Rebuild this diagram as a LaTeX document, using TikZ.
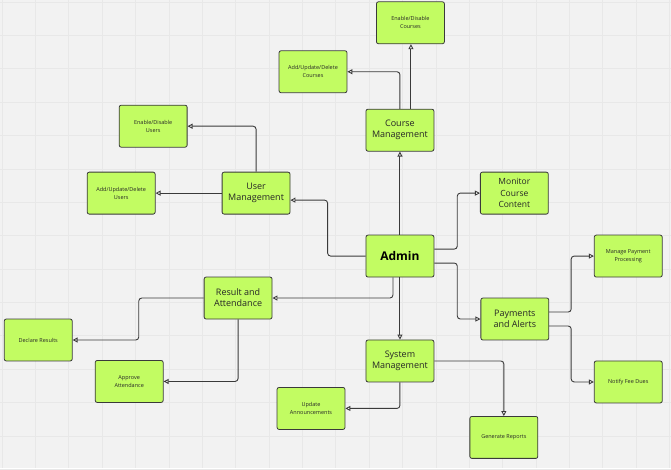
\documentclass[tikz,border=0pt]{standalone}
\usepackage{fontspec}
\setmainfont{Open Sans}
\usetikzlibrary{arrows.meta}
\definecolor{boxfill}{RGB}{194,252,98}
\definecolor{boxline}{RGB}{58,58,58}
\definecolor{canvas}{RGB}{242,242,242}
\definecolor{gridcol}{RGB}{232,232,232}
\begin{document}
\begin{tikzpicture}[
  x=1pt, y=-1pt,
  >={Triangle[fill=white, length=5pt, width=5pt]},
  task/.style={rectangle, rounded corners=2pt, draw=boxline, fill=boxfill, line width=0.8pt,
    minimum width=68pt, minimum height=42pt, align=center, inner sep=1pt, text=black!85,
    font={\fontsize{5.5}{8.3}\selectfont}},
  group/.style={task, font={\fontsize{9}{11}\selectfont}},
  root/.style={task, font={\fontsize{12}{14}\selectfont\bfseries}, text=black},
  flow/.style={->, draw=boxline, line width=0.9pt, rounded corners=3pt}
]
% canvas and grid
\fill[canvas] (0,0) rectangle (671,468);
\foreach \k in {0,...,20} {
  \draw[gridcol, line width=0.6pt] (1.7+33.4*\k,0) -- (1.7+33.4*\k,468);
}
\foreach \k in {0,...,14} {
  \draw[gridcol, line width=0.6pt] (0,1.7+33.4*\k) -- (671,1.7+33.4*\k);
}
\useasboundingbox (0,0) rectangle (671,468);
% boxes
\node[task] (encrs) at (410.5,22.5) {Enable/Disable\\Courses};
\node[task] (audcrs) at (313,71.5) {Add/Update/Delete\\Courses};
\node[group] (crsmgmt) at (400,130) {Course\\Management};
\node[task] (enusr) at (153,126) {Enable/Disable\\Users};
\node[task] (audusr) at (121,193) {Add/Update/Delete\\Users};
\node[group] (usrmgmt) at (256,193) {User\\Management};
\node[group, font={\fontsize{8.5}{11.5}\selectfont}] (monitor) at (514.5,193) {Monitor\\Course\\Content};
\node[root] (admin) at (400,256) {Admin};
\node[task] (mpp) at (628.5,256) {Manage Payment\\Processing};
\node[group] (resatt) at (238,298) {Result and\\Attendance};
\node[group] (payalert) at (515,319) {Payments\\and Alerts};
\node[task] (declare) at (38,340) {Declare Results};
\node[group] (sysmgmt) at (400,361) {System\\Management};
\node[task] (approve) at (129,381.5) {Approve\\Attendance};
\node[task] (notify) at (628.5,382) {Notify Fee Dues};
\node[task] (updann) at (311,408.5) {Update\\Announcements};
\node[task] (genrep) at (504,437.5) {Generate Reports};
% connectors
\draw[flow] ([xshift=11pt]crsmgmt.north) -- ([xshift=11pt]crsmgmt.north |- encrs.south);
\draw[flow] (crsmgmt.north) |- (audcrs.east);
\draw[flow] (admin.north) -- (crsmgmt.south);
\draw[flow] (usrmgmt.north) |- (enusr.east);
\draw[flow] (usrmgmt.west) -- (audusr.east);
\draw[flow] (admin.west) -- ++(-38,0) |- ([yshift=-7pt]usrmgmt.east);
\draw[flow] ([yshift=7pt]admin.east) -- ++(23,0) |- (monitor.west);
\draw[flow] ([yshift=-7pt]admin.east) -- ++(23,0) |- (payalert.west);
\draw[flow] ([yshift=7pt]payalert.east) -- ++(22,0) |- (mpp.west);
\draw[flow] ([yshift=-7pt]payalert.east) -- ++(22,0) |- (notify.west);
\draw[flow] ([xshift=-7pt]admin.south) |- (resatt.east);
\draw[flow] (admin.south) -- (sysmgmt.north);
\draw[flow] (resatt.west) -- ++(-65,0) |- (declare.east);
\draw[flow] (resatt.south) |- (approve.east);
\draw[flow] (sysmgmt.south) |- (updann.east);
\draw[flow] (sysmgmt.east) -| (genrep.north);
\end{tikzpicture}
\end{document}
